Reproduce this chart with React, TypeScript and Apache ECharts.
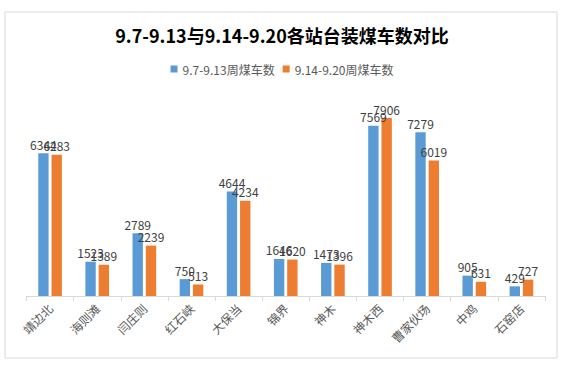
import React, { useEffect, useRef } from "react";
import * as echarts from "echarts";

const categories = ["靖边北", "海则滩", "闫庄则", "红石峡", "大保当", "锦界", "神木", "神木西", "曹家伙场", "中鸡", "石窑店"];
const week1 = [6344, 1523, 2789, 750, 4644, 1646, 1473, 7569, 7279, 905, 429];
const week2 = [6283, 1389, 2239, 513, 4234, 1620, 1396, 7906, 6019, 631, 727];
const seriesNames = ["9.7-9.13周煤车数", "9.14-9.20周煤车数"];
const titleText = "9.7-9.13与9.14-9.20各站台装煤车数对比";

export default function App() {
  const ref = useRef<HTMLDivElement>(null);
  useEffect(() => {
    if (!ref.current) return;
    const chart = echarts.init(ref.current, null, { renderer: "svg" });
    const font = "'Noto Sans CJK SC', 'Noto Sans', sans-serif";
    const labelStyle = {
      show: true,
      position: "top" as const,
      distance: 3,
      color: "#404040",
      fontSize: 12,
      fontFamily: font,
    };
    chart.setOption({
      animation: false,
      backgroundColor: "#ffffff",
      textStyle: { fontFamily: font },
      graphic: [
        {
          type: "rect",
          shape: { x: 5, y: 12, width: 552, height: 346 },
          style: { fill: "none", stroke: "#d9d9d9", lineWidth: 1 },
          silent: true,
        },
      ],
      title: {
        text: titleText,
        left: "center",
        top: 21,
        textStyle: { fontSize: 18, fontWeight: "bold", color: "#000000", fontFamily: font },
      },
      legend: {
        data: seriesNames,
        top: 58,
        left: "center",
        itemWidth: 7,
        itemHeight: 7,
        itemGap: 8,
        icon: "rect",
        textStyle: { fontSize: 12, color: "#595959", fontFamily: font },
      },
      grid: { left: 26.5, right: 19, top: 93.5, bottom: 71, containLabel: false },
      xAxis: {
        type: "category",
        data: categories,
        axisLine: { lineStyle: { color: "#d9d9d9" } },
        axisTick: { show: true, alignWithLabel: false, length: 5, lineStyle: { color: "#d9d9d9" } },
        axisLabel: { rotate: 45, color: "#595959", fontSize: 12, interval: 0, margin: 10, fontFamily: font },
      },
      yAxis: {
        type: "value",
        min: 0,
        max: 9000,
        interval: 1000,
        show: false,
        splitLine: { show: false },
      },
      series: [
        {
          name: seriesNames[0],
          type: "bar",
          data: week1,
          barWidth: "22%",
          barGap: "28%",
          itemStyle: { color: "#5b9bd5" },
          label: labelStyle,
        },
        {
          name: seriesNames[1],
          type: "bar",
          data: week2,
          barWidth: "22%",
          itemStyle: { color: "#ed7d31" },
          label: labelStyle,
        },
      ],
    });
    return () => chart.dispose();
  }, []);
  return (
    <div
      ref={ref}
      style={{ position: "fixed", left: 0, top: 0, width: 564, height: 367, background: "#fff" }}
    />
  );
}
